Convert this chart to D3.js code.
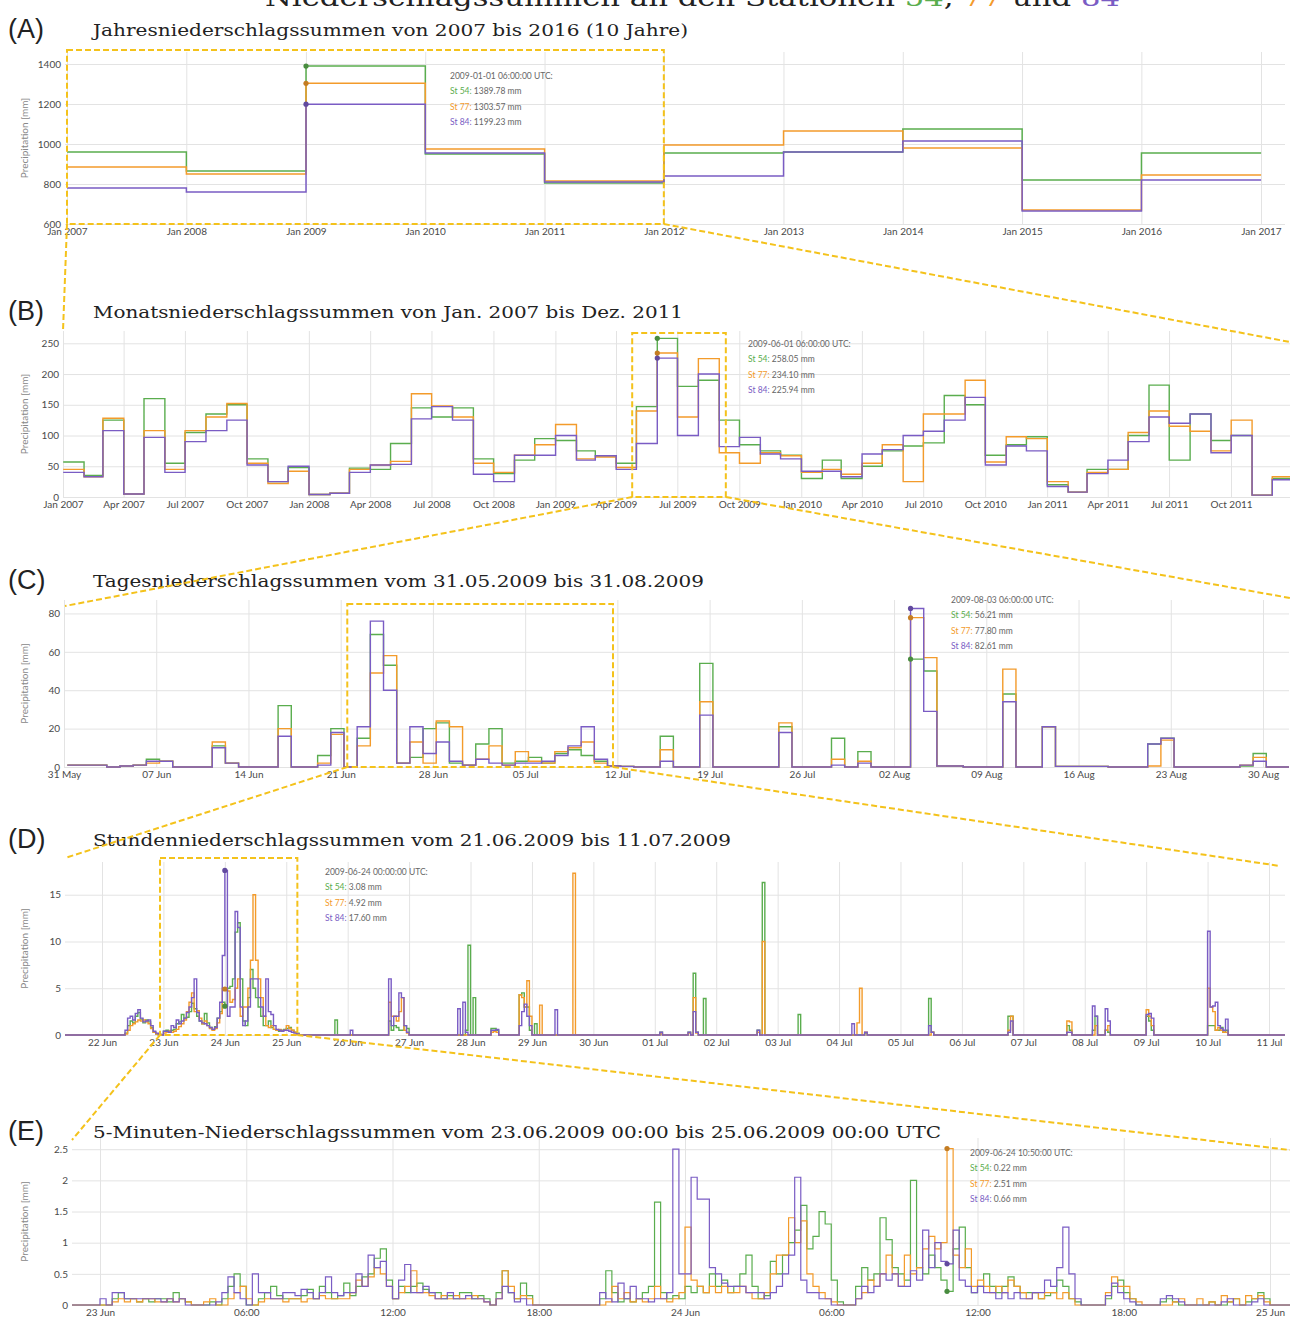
<!DOCTYPE html>
<html>
<head>
<meta charset="utf-8">
<script src="https://cdn.jsdelivr.net/npm/d3@7"></script>
<style>
  body { margin: 0; background: #fff; }
  text { font-family: Lato, "DejaVu Sans", sans-serif; }
</style>
</head>
<body>
<svg id="chart" width="1290" height="1319"></svg>
<script>
const STATIONS = ["St 54", "St 77", "St 84"]
const COLORS = ["#5aad4e", "#f39b2b", "#7a5cc4"]
const YELLOW = "#f4c21b"
const GRID = "#e3e3e3"
const SERIF = "'DejaVu Serif', 'Liberation Serif', serif"

// (A) yearly sums 2007-2016
const YEARS = [2007, 2008, 2009, 2010, 2011, 2012, 2013, 2014, 2015, 2016]
const YEAR_ST54 = [960, 865, 1389.78, 950, 805, 955, 960, 1075, 820, 955]
const YEAR_ST77 = [885, 850, 1303.57, 975, 815, 995, 1065, 980, 670, 845]
const YEAR_ST84 = [780, 760, 1199.23, 955, 810, 840, 960, 1015, 665, 820]

// (B) monthly sums Jan 2007 - Dec 2011
const MONTH_ST54 = [57, 35, 125, 5, 160, 55, 105, 135, 150, 62, 25, 48,
                    4, 6, 47, 45, 87, 145, 130, 145, 62, 38, 60, 95,
                    92, 75, 67, 55, 147, 258.05, 180, 190, 125, 85, 75, 68,
                    30, 60, 30, 50, 75, 83, 88, 165, 150, 68, 85, 98,
                    20, 8, 45, 45, 100, 182, 60, 135, 92, 100, 3, 30]
const MONTH_ST77 = [45, 33, 128, 5, 108, 45, 108, 130, 152, 55, 22, 42,
                    4, 6, 45, 52, 58, 168, 148, 130, 55, 40, 68, 85,
                    118, 62, 65, 48, 140, 234.10, 130, 225, 72, 55, 72, 67,
                    40, 45, 37, 55, 85, 25, 135, 135, 190, 57, 98, 95,
                    25, 8, 40, 45, 105, 140, 115, 107, 75, 125, 3, 33]
const MONTH_ST84 = [40, 33, 108, 5, 97, 40, 90, 108, 125, 52, 25, 50,
                    4, 6, 40, 52, 53, 127, 147, 125, 37, 25, 68, 68,
                    100, 60, 67, 45, 87, 225.94, 100, 200, 82, 97, 70, 62,
                    42, 42, 33, 70, 77, 100, 107, 125, 162, 52, 83, 75,
                    17, 8, 38, 60, 90, 130, 120, 135, 72, 100, 3, 28]

// (C) daily sums 31.05.2009 - 31.08.2009
const DAY_ST54 = [1, 1, 1, 0, 0.5, 1, 4, 3, 0, 0, 0, 11, 2, 0, 0, 0, 32, 0, 0, 6,
                  20, 0, 15, 69, 53, 2, 5, 20, 23, 2, 1, 12, 20, 2, 3, 5, 2, 7, 9, 6,
                  3, 0.5, 0.3, 0, 0, 16, 0, 0, 54, 0, 0, 0, 0, 0, 21, 0, 0, 0, 15, 0,
                  8, 0, 0, 0, 56.21, 50, 0.5, 0.5, 0, 0, 0, 38, 0, 0, 21, 0.3, 0.3, 0.3, 0.3, 0,
                  0, 0, 12, 15, 0, 0, 0, 0, 0, 0.5, 7, 0, 0]
const DAY_ST77 = [1, 1, 1, 0, 0.5, 1, 2, 3, 0, 0, 0, 13, 2, 0, 0, 0, 20, 0, 0, 2,
                  17, 0, 11, 49, 58, 2, 13, 2, 24, 21, 1, 4, 11, 1, 8, 3, 2, 8, 10, 13,
                  2, 0.5, 0.3, 0, 0, 9, 0, 0, 34, 0, 0, 0, 0, 0, 23, 0, 0, 0, 4, 0,
                  3, 0, 0, 0, 77.8, 57, 0.5, 0.5, 0, 0, 0, 51, 0, 0, 21, 0.3, 0.3, 0.3, 0.3, 0,
                  0, 0, 0.5, 14, 0, 0, 0, 0, 0, 1, 5, 0, 0]
const DAY_ST84 = [1, 1, 1, 0, 0.5, 1, 3, 3, 0, 0, 0, 10, 2, 0, 0, 0, 16, 0, 0, 1,
                  18, 0, 21, 76, 40, 2, 21, 7, 13, 3, 1, 4, 2, 1, 2, 2, 3, 6, 11, 21,
                  4, 0.5, 0.3, 0, 0, 3, 0, 0, 27, 0, 0, 0, 0, 0, 18, 0, 0, 0, 1, 0,
                  2, 0, 0, 0, 82.61, 29, 0.5, 0.5, 0, 0, 0, 34, 0, 0, 21, 0.3, 0.3, 0.3, 0.3, 0,
                  0, 0, 12, 15, 0, 0, 0, 0, 0, 1, 3, 0, 0]

// (D) hourly sums, only hours with rain; hours after 22.06.2009 00:00 UTC
const HOUR_AT = [9, 10, 11, 12, 13, 14, 15, 16, 17, 18, 19, 20, 21, 22,
  24, 25, 26, 27, 28, 29, 30, 31, 32, 33, 34, 35, 36, 37, 38, 39, 40, 41, 42, 43, 44, 45, 46, 47,
  48, 49, 50, 51, 52, 53, 54, 55, 56, 57, 58, 59, 60, 61, 62, 63, 64, 65, 66, 67, 68, 69, 70, 71,
  72, 73, 74, 75, 76, 91, 97,
  112, 113, 114, 115, 116, 117, 118, 119,
  139, 141, 142, 143, 145, 152, 153, 154, 163, 164, 165, 166, 167, 169, 171, 177, 184,
  218, 229, 231, 232, 235, 256, 258, 272, 293, 295, 296, 298, 323, 324, 354, 355, 377, 378, 387, 388, 392, 393, 408, 409, 410,
  432, 433, 434, 435, 436, 437, 438, 439]
const HOUR_ST54 = [0.2, 1.0, 1.5, 1.3, 2.0, 2.4, 1.7, 1.3, 1.6, 1.4, 0.8, 0.3, 0.1, 0,
  0.4, 0.5, 0.4, 0.5, 0.6, 1.2, 1.4, 2.2, 1.8, 1.9, 2.5, 3.4, 2.8, 2.0, 1.5, 1.2, 2.3, 1.3, 0.8, 0.6, 0.9, 1.8, 2.5, 3.5,
  3.08, 5.0, 5.2, 6.0, 11.0, 12.0, 6.0, 1.5, 1.0, 4.0, 7.0, 5.0, 4.0, 3.0, 2.0, 1.0, 1.0, 1.5, 0.8, 0.6, 0.5, 0.4, 0.5, 0.6,
  0.7, 0.8, 0.5, 0.3, 0.2, 1.6, 0,
  1.5, 0.5, 1.0, 0.8, 0.5, 0.5, 1.0, 0.7,
  0, 0, 0.5, 9.6, 4.0, 0.7, 0.7, 0.5, 4.3, 4.5, 3.0, 3.0, 0.5, 1.2, 0, 0, 0,
  0.3, 0.3, 6.6, 0.3, 3.9, 0.5, 16.3, 2.2, 0, 0, 0, 0.2, 3.9, 0.3, 2.0, 2.0, 1.0, 0.5, 0.5, 2.0, 0.5, 0.3, 2.0, 1.5, 0.5,
  1.0, 1.0, 1.0, 0.5, 0.5, 0.8, 0.3, 0.5]
const HOUR_ST77 = [0.1, 0.5, 1.0, 1.2, 1.4, 1.6, 1.5, 1.6, 1.4, 1.2, 0.7, 0.3, 0.1, 0,
  0.2, 0.3, 0.4, 0.3, 0.4, 0.6, 0.9, 1.2, 1.6, 2.5, 3.5, 4.5, 2.5, 2.6, 1.8, 1.2, 1.5, 1.0, 0.7, 0.5, 0.7, 1.3, 2.3, 5.0,
  4.92, 4.7, 3.5, 3.8, 5.0, 6.0, 2.0, 3.0, 3.0, 5.0, 8.0, 15.0, 8.0, 6.0, 4.0, 2.0, 1.0, 0.8, 1.0, 0.6, 0.5, 0.6, 0.4, 0.5,
  1.0, 0.7, 0.5, 0.3, 0.1, 0, 0,
  3.5, 2.0, 2.0, 1.5, 2.5, 4.0, 0.5, 0.2,
  0, 0, 0, 0, 0, 0.3, 0.4, 0.3, 4.3, 4.0, 3.0, 5.8, 2.0, 0, 3.2, 0, 17.3,
  0.1, 0.2, 4.0, 0.2, 0, 0.3, 10.0, 0, 0, 1.3, 5.0, 0.3, 0, 0.3, 0.5, 2.0, 1.5, 1.4, 0, 1.0, 0.5, 1.0, 2.7, 2.0, 1.0,
  5.0, 3.0, 2.5, 0.5, 0.8, 0.5, 0.3, 0.3]
const HOUR_ST84 = [0.5, 1.8, 2.0, 1.6, 2.3, 2.7, 1.8, 1.4, 1.5, 1.6, 1.0, 0.4, 0.2, 0.1,
  0.4, 0.4, 0.3, 1.0, 0.8, 1.6, 1.2, 1.5, 1.8, 2.4, 3.0, 4.0, 6.0, 2.4, 1.5, 1.3, 1.2, 1.0, 0.8, 0.6, 0.8, 1.8, 3.5, 8.5,
  17.6, 2.0, 3.0, 3.0, 13.2, 11.5, 3.0, 1.0, 1.5, 3.0, 6.0, 6.0, 6.0, 4.0, 3.0, 2.0, 6.0, 2.5, 2.2, 1.0, 0.6, 0.5, 0.4, 0.5,
  0.5, 0.4, 0.3, 0.2, 0.1, 0, 0.5,
  6.0, 1.0, 2.0, 2.0, 4.5, 4.0, 1.0, 0.3,
  2.8, 3.5, 0.3, 0, 0, 0.5, 0.5, 0.6, 1.0, 2.5, 3.3, 2.0, 1.0, 0, 0, 2.7, 0,
  0.3, 0.3, 2.5, 0.3, 0, 0.5, 0, 0, 1.2, 0, 0, 0.3, 1.0, 0.3, 0.3, 1.5, 0.3, 0.3, 3.1, 2.0, 2.8, 1.5, 2.2, 2.3, 1.8,
  11.1, 3.0, 3.1, 3.5, 1.0, 0.7, 0.5, 1.7]

// (E) 5-minute sums read every 15 min, 23.06.2009 00:00 - 25.06.2009 00:00 UTC (4 values per hour)
const FIVEMIN_ST54 = [
  0, 0, 0.1, 0.2,  0.1, 0.1, 0.05, 0.1,  0.05, 0.1, 0.1, 0.05,  0.2, 0.1, 0.05, 0,
  0, 0, 0.05, 0,  0.1, 0.3, 0.5, 0.3,  0, 0, 0.1, 0.2,  0.3, 0.15, 0.1, 0.1,
  0.1, 0.15, 0.25, 0.1,  0.3, 0.2, 0.1, 0.15,  0.35, 0.15, 0.3, 0.45,  0.5, 0.75, 0.9, 0.4,
  0.1, 0.3, 0.2, 0.3,  0.35, 0.25, 0.2, 0.2,  0.1, 0.15, 0.1, 0.2,  0.2, 0.1, 0.15, 0.1,
  0, 0.2, 0.55, 0.2,  0.1, 0.35, 0.15, 0,  0, 0, 0, 0,  0, 0, 0, 0,
  0, 0, 0.1, 0.55,  0.2, 0.05, 0.1, 0.05,  0.1, 0.2, 0.3, 1.65,  0.2, 0.1, 0.15, 0.1,
  0.3, 0.2, 0.3, 0.2,  0.5, 0.3, 0.4, 0.2,  0.3, 0.5, 0.8, 0.3,  0.1, 0.15, 0.7, 0.5,
  0.8, 1.0, 1.2, 1.6,  0.9, 1.1, 1.5, 1.3,  0.4, 0.05, 0, 0,  0.3, 0.6, 0.4, 0.5,
  1.4, 1.05, 0.6, 0.5,  0.4, 2.0, 0.6, 0.5,  0.8, 0.6, 0.4, 0.22,  0.9, 1.25, 0.6, 0.2,
  0.3, 0.5, 0.3, 0.2,  0.3, 0.45, 0.3, 0.2,  0.2, 0.2, 0.1, 0.15,  0.2, 0.4, 0.3, 0.1,
  0.05, 0, 0, 0,  0, 0.1, 0.3, 0.4,  0.2, 0.1, 0, 0,  0, 0, 0.05, 0.1,
  0.05, 0, 0, 0,  0, 0, 0.05, 0,  0, 0.05, 0.1, 0,  0.05, 0.1, 0.2, 0.1]
const FIVEMIN_ST77 = [
  0, 0, 0.05, 0.1,  0.05, 0.1, 0.05, 0.1,  0.1, 0.05, 0.05, 0.1,  0.05, 0.1, 0.05, 0,
  0, 0.05, 0.1, 0,  0, 0.1, 0.2, 0.3,  0.1, 0, 0.05, 0.1,  0.1, 0.1, 0.05, 0.1,
  0.1, 0.05, 0.1, 0.1,  0.15, 0.1, 0.1, 0.1,  0.1, 0.2, 0.4, 0.3,  0.45, 0.6, 0.5, 0.3,
  0.1, 0.2, 0.3, 0.55,  0.2, 0.2, 0.15, 0.1,  0.15, 0.1, 0.15, 0.1,  0.1, 0.15, 0.1, 0.05,
  0, 0.1, 0.55, 0.3,  0.1, 0.15, 0.1, 0,  0, 0, 0, 0,  0, 0, 0, 0,
  0, 0, 0, 0.05,  0.3, 0.1, 0.2, 0.05,  0.1, 0.05, 0.1, 0.3,  0.1, 0.05, 0.1, 0.2,
  1.25, 0.4, 0.3, 0.2,  0.3, 0.2, 0.3, 0.2,  0.2, 0.3, 0.2, 0.1,  0.1, 0.2, 0.5, 0.8,
  0.8, 1.4, 1.0, 1.35,  0.5, 0.3, 0.2, 0.1,  0.05, 0, 0, 0,  0.1, 0.2, 0.4, 0.3,
  0.5, 0.8, 0.5, 0.3,  0.8, 0.5, 0.6, 0.9,  1.1, 0.9, 1.0, 2.51,  0.8, 0.6, 0.9, 0.3,
  0.4, 0.3, 0.2, 0.3,  0.2, 0.4, 0.3, 0.2,  0.1, 0.2, 0.1, 0.2,  0.2, 0.1, 0.2, 0.1,
  0, 0, 0, 0,  0, 0.2, 0.45, 0.3,  0.3, 0.1, 0.05, 0,  0, 0, 0, 0,
  0.05, 0.1, 0, 0,  0.1, 0, 0.05, 0,  0.15, 0.05, 0.1, 0,  0.15, 0.1, 0.15, 0.05]
const FIVEMIN_ST84 = [
  0.1, 0, 0.2, 0.2,  0.1, 0.1, 0.1, 0.1,  0.1, 0.1, 0.05, 0.1,  0.05, 0.1, 0, 0,
  0, 0, 0, 0.05,  0.2, 0.45, 0.2, 0.1,  0, 0.5, 0.2, 0.2,  0.1, 0.1, 0.2, 0.2,
  0.15, 0.25, 0.2, 0.1,  0.2, 0.45, 0.2, 0.15,  0.2, 0.2, 0.5, 0.3,  0.8, 0.6, 0.7, 0.3,
  0.1, 0.4, 0.65, 0.2,  0.2, 0.3, 0.2, 0.1,  0.1, 0.2, 0.1, 0.1,  0.15, 0.1, 0.1, 0.05,
  0, 0.1, 0.3, 0.2,  0.05, 0.1, 0, 0,  0, 0, 0, 0,  0, 0, 0, 0,
  0, 0, 0.2, 0.1,  0.05, 0.35, 0.1, 0.3,  0.1, 0.1, 0.05, 0.1,  0.1, 0.2, 2.5, 0.5,
  0.5, 2.05, 1.7, 1.7,  0.6, 0.5, 0.35, 0.3,  0.3, 0.3, 0.2, 0.2,  0.2, 0.1, 0.2, 0.3,
  0.5, 0.8, 2.05, 0.4,  0.2, 0.2, 0.1, 0.1,  0, 0, 0, 0,  0.1, 0.3, 0.2, 0.3,
  0.5, 0.4, 0.5, 0.3,  0.3, 0.55, 0.4, 1.2,  0.6, 1.0, 0.7, 0.66,  1.2, 0.4, 0.3, 0.2,
  0.3, 0.2, 0.2, 0.1,  0.2, 0.1, 0.2, 0.1,  0.1, 0.2, 0.2, 0.4,  0.3, 0.6, 1.25, 0.5,
  0.1, 0, 0, 0,  0, 0.15, 0.35, 0.2,  0.1, 0.05, 0, 0,  0, 0, 0.1, 0.15,
  0.1, 0.05, 0, 0,  0, 0, 0, 0,  0.05, 0.1, 0, 0,  0, 0.05, 0.1, 0]

const svg = d3.select("#chart")
const utc = (y, m, d, h = 0, mi = 0) => new Date(Date.UTC(y, m - 1, d, h, mi))
const fmtDay = d3.utcFormat("%d %b")
const fmtHour = d3.utcFormat("%H:%M")

function stepPoints(times, values, end) {
  const pts = values.map((v, i) => [times[i], v])
  pts.push([end, values[values.length - 1]])
  return pts
}

function drawPanel(p) {
  const bottom = p.y.range()[0], top = p.y.range()[1]
  const g = svg.append("g")

  g.append("clipPath").attr("id", "clip" + p.letter)
    .append("rect")
    .attr("x", p.left).attr("y", top - 6)
    .attr("width", p.right - p.left).attr("height", bottom - top + 12)

  // grid + tick labels
  const yAxis = g.append("g")
    .attr("transform", `translate(${p.left},0)`)
    .call(d3.axisLeft(p.y).tickValues(p.yTicks).tickSize(-(p.right - p.left)).tickPadding(4).tickFormat(d3.format("")))
  const xTicks = p.xTicks.filter(d => p.x(d) >= p.left - 1 && p.x(d) <= p.right + 1)
  const xAxis = g.append("g")
    .attr("transform", `translate(0,${bottom})`)
    .call(d3.axisBottom(p.x).tickValues(xTicks).tickSize(-(bottom - top)).tickPadding(4).tickFormat(p.format))
  for (const ax of [xAxis, yAxis]) {
    ax.select(".domain").remove()
    ax.selectAll(".tick line").attr("stroke", GRID)
    ax.selectAll(".tick text").attr("fill", "#4a4a4a").attr("font-size", 10)
  }

  // station lines
  const line = d3.line().x(d => p.x(d[0])).y(d => p.y(d[1])).curve(d3.curveStepAfter)
  p.series.forEach((pts, i) => {
    g.append("path").datum(pts)
      .attr("clip-path", `url(#clip${p.letter})`)
      .attr("fill", "none")
      .attr("stroke", COLORS[i])
      .attr("stroke-width", p.lineWidth)
      .attr("d", line)
  })

  // hover marker and readout
  p.hover.values.forEach((v, i) => {
    g.append("circle")
      .attr("cx", p.x(p.hover.time)).attr("cy", p.y(v)).attr("r", 2.6)
      .attr("fill", d3.color(COLORS[i]).darker(0.6))
  })
  const tip = g.append("text").attr("font-size", 8.5).attr("fill", "#666")
    .attr("x", p.tip[0]).attr("y", p.tip[1])
  tip.append("tspan").attr("x", p.tip[0]).text(p.hover.label)
  p.hover.values.forEach((v, i) => {
    const row = tip.append("tspan").attr("x", p.tip[0]).attr("dy", 15.3)
    row.append("tspan").attr("fill", COLORS[i]).text(STATIONS[i] + ": ")
    row.append("tspan").text(v.toFixed(2) + " mm")
  })

  // y axis title
  svg.append("text")
    .attr("transform", `translate(28,${(top + bottom) / 2}) rotate(-90)`)
    .attr("text-anchor", "middle")
    .attr("font-size", 10).attr("fill", "#888")
    .text("Precipitation [mm]")

  // panel letter and title
  svg.append("text")
    .attr("x", 8).attr("y", p.titleY + 2)
    .style("font-family", "'Liberation Sans', Arial, sans-serif")
    .attr("font-size", 27).attr("fill", "#222")
    .text("(" + p.letter + ")")
  svg.append("text")
    .attr("x", 93).attr("y", p.titleY)
    .style("font-family", SERIF)
    .attr("font-size", 17).attr("fill", "#222")
    .attr("textLength", p.titleWidth).attr("lengthAdjust", "spacingAndGlyphs")
    .text(p.title)

  return p
}

// (A)
const yearTimes = YEARS.map(y => utc(y, 1, 1, 6))
const panelA = drawPanel({
  letter: "A", title: "Jahresniederschlagssummen von 2007 bis 2016 (10 Jahre)", titleY: 36, titleWidth: 595,
  left: 65, right: 1285,
  x: d3.scaleUtc().domain([utc(2007, 1, 1), utc(2017, 1, 1)]).range([67, 1261]),
  y: d3.scaleLinear().domain([600, 1460]).range([224, 52]),
  xTicks: d3.utcYear.range(utc(2007, 1, 1), utc(2017, 1, 2)),
  yTicks: [600, 800, 1000, 1200, 1400],
  format: d3.utcFormat("%b %Y"),
  lineWidth: 1.5,
  series: [YEAR_ST54, YEAR_ST77, YEAR_ST84].map(v => stepPoints(yearTimes, v, utc(2017, 1, 1, 6))),
  hover: { time: yearTimes[2], label: "2009-01-01 06:00:00 UTC:", values: [YEAR_ST54[2], YEAR_ST77[2], YEAR_ST84[2]] },
  tip: [450, 79]
})

// (B)
const monthTimes = d3.range(MONTH_ST54.length).map(i => d3.utcMonth.offset(utc(2007, 1, 1, 6), i))
const panelB = drawPanel({
  letter: "B", title: "Monatsniederschlagssummen von Jan. 2007 bis Dez. 2011", titleY: 318, titleWidth: 590,
  left: 63, right: 1290,
  x: d3.scaleUtc().domain([utc(2007, 1, 1), utc(2012, 1, 1)]).range([63, 1293]),
  y: d3.scaleLinear().domain([0, 270]).range([497, 331]),
  xTicks: d3.utcMonth.every(3).range(utc(2007, 1, 1), utc(2012, 1, 1)),
  yTicks: [0, 50, 100, 150, 200, 250],
  format: d3.utcFormat("%b %Y"),
  lineWidth: 1.4,
  series: [MONTH_ST54, MONTH_ST77, MONTH_ST84].map(v => stepPoints(monthTimes, v, utc(2012, 1, 1, 6))),
  hover: { time: monthTimes[29], label: "2009-06-01 06:00:00 UTC:", values: [MONTH_ST54[29], MONTH_ST77[29], MONTH_ST84[29]] },
  tip: [748, 347]
})

// (C)
const dayTimes = d3.range(DAY_ST54.length).map(i => d3.utcDay.offset(utc(2009, 5, 31, 6), i))
const panelC = drawPanel({
  letter: "C", title: "Tagesniederschlagssummen vom 31.05.2009 bis 31.08.2009", titleY: 587, titleWidth: 611,
  left: 64, right: 1289,
  x: d3.scaleUtc().domain([utc(2009, 5, 31), utc(2009, 8, 30)]).range([64, 1263]),
  y: d3.scaleLinear().domain([0, 87]).range([767, 600]),
  xTicks: d3.utcSunday.range(utc(2009, 5, 31), utc(2009, 9, 1)),
  yTicks: [0, 20, 40, 60, 80],
  format: fmtDay,
  lineWidth: 1.4,
  series: [DAY_ST54, DAY_ST77, DAY_ST84].map(v => stepPoints(dayTimes, v, utc(2009, 9, 1, 6))),
  hover: { time: dayTimes[64], label: "2009-08-03 06:00:00 UTC:", values: [DAY_ST54[64], DAY_ST77[64], DAY_ST84[64]] },
  tip: [951, 603]
})

// (D) dense hourly series, hours without entry are dry
const hourRange = d3.range(-15, 464)
const hourTimes = hourRange.map(h => d3.utcHour.offset(utc(2009, 6, 22), h))
const hourly = [HOUR_ST54, HOUR_ST77, HOUR_ST84].map(vals => {
  const byHour = new Map(HOUR_AT.map((h, i) => [h, vals[i]]))
  return hourRange.map(h => byHour.get(h) || 0)
})
const hoverHour = HOUR_AT.indexOf(48)
const panelD = drawPanel({
  letter: "D", title: "Stundenniederschlagssummen vom 21.06.2009 bis 11.07.2009", titleY: 846, titleWidth: 638,
  left: 65, right: 1285,
  x: d3.scaleUtc().domain([utc(2009, 6, 22), utc(2009, 7, 11)]).range([102, 1269]),
  y: d3.scaleLinear().domain([0, 18.5]).range([1035, 862]),
  xTicks: d3.utcDay.range(utc(2009, 6, 22), utc(2009, 7, 11, 1)),
  yTicks: [0, 5, 10, 15],
  format: fmtDay,
  lineWidth: 1.4,
  series: hourly.map(v => stepPoints(hourTimes, v, d3.utcHour.offset(hourTimes[hourTimes.length - 1], 1))),
  hover: { time: utc(2009, 6, 24), label: "2009-06-24 00:00:00 UTC:",
           values: [HOUR_ST54[hoverHour], HOUR_ST77[hoverHour], HOUR_ST84[hoverHour]] },
  tip: [325, 875]
})

// (E)
const fiveTimes = d3.range(FIVEMIN_ST54.length).map(i => d3.utcMinute.offset(utc(2009, 6, 23), 15 * i))
const fiveSeries = [FIVEMIN_ST54, FIVEMIN_ST77, FIVEMIN_ST84].map(v => {
  const pts = [[utc(2009, 6, 22, 22), 0]].concat(v.map((d, i) => [fiveTimes[i], d]))
  pts.push([utc(2009, 6, 25), 0], [utc(2009, 6, 25, 1), 0])
  return pts
})
const hoverFive = (24 + 10) * 4 + 3
const panelE = drawPanel({
  letter: "E", title: "5-Minuten-Niederschlagssummen vom 23.06.2009 00:00 bis 25.06.2009 00:00 UTC", titleY: 1138, titleWidth: 848,
  left: 72, right: 1290,
  x: d3.scaleUtc().domain([utc(2009, 6, 23), utc(2009, 6, 25)]).range([100, 1270]),
  y: d3.scaleLinear().domain([0, 2.68]).range([1305, 1138]),
  xTicks: d3.utcHour.every(6).range(utc(2009, 6, 23), utc(2009, 6, 25, 1)),
  yTicks: [0, 0.5, 1, 1.5, 2, 2.5],
  format: d => d.getUTCHours() === 0 ? fmtDay(d) : fmtHour(d),
  lineWidth: 1.2,
  series: fiveSeries,
  hover: { time: fiveTimes[hoverFive], label: "2009-06-24 10:50:00 UTC:",
           values: [FIVEMIN_ST54[hoverFive], FIVEMIN_ST77[hoverFive], FIVEMIN_ST84[hoverFive]] },
  tip: [970, 1156]
})

// zoom boxes and connector lines
const zooms = [
  { x0: panelA.x(utc(2007, 1, 1)), x1: panelA.x(utc(2012, 1, 1)), y0: 50, y1: panelA.y(600), to: [[63, 331], [1290, 342]] },
  { x0: panelB.x(utc(2009, 4, 25)), x1: panelB.x(utc(2009, 9, 11)), y0: 333, y1: panelB.y(0), to: [[65, 606], [1290, 598]] },
  { x0: panelC.x(utc(2009, 6, 21, 12)), x1: panelC.x(utc(2009, 7, 11, 16)), y0: 604, y1: panelC.y(0), to: [[65, 858], [1280, 866]] },
  { x0: panelD.x(utc(2009, 6, 22, 22, 40)), x1: panelD.x(utc(2009, 6, 25, 4, 20)), y0: 858, y1: panelD.y(0), to: [[72, 1140], [1290, 1150]] }
]
const dash = "6,3"
zooms.forEach(z => {
  svg.append("rect")
    .attr("x", z.x0).attr("y", z.y0).attr("width", z.x1 - z.x0).attr("height", z.y1 - z.y0)
    .attr("fill", "none").attr("stroke", YELLOW).attr("stroke-width", 2).attr("stroke-dasharray", dash)
  ;[[z.x0, z.to[0]], [z.x1, z.to[1]]].forEach(([x, t]) => {
    svg.append("line")
      .attr("x1", x).attr("y1", z.y1).attr("x2", t[0]).attr("y2", t[1])
      .attr("stroke", YELLOW).attr("stroke-width", 2).attr("stroke-dasharray", dash)
  })
})

// main title, mostly cut off at the top edge
const head = svg.append("text")
  .attr("x", 265).attr("y", 6)
  .style("font-family", SERIF)
  .attr("font-size", 25).attr("fill", "#222")
  .attr("textLength", 855).attr("lengthAdjust", "spacingAndGlyphs")
head.append("tspan").text("Niederschlagssummen an den Stationen ")
head.append("tspan").attr("fill", COLORS[0]).text("54")
head.append("tspan").text(", ")
head.append("tspan").attr("fill", COLORS[1]).text("77")
head.append("tspan").text(" und ")
head.append("tspan").attr("fill", COLORS[2]).text("84")
</script>
</body>
</html>
